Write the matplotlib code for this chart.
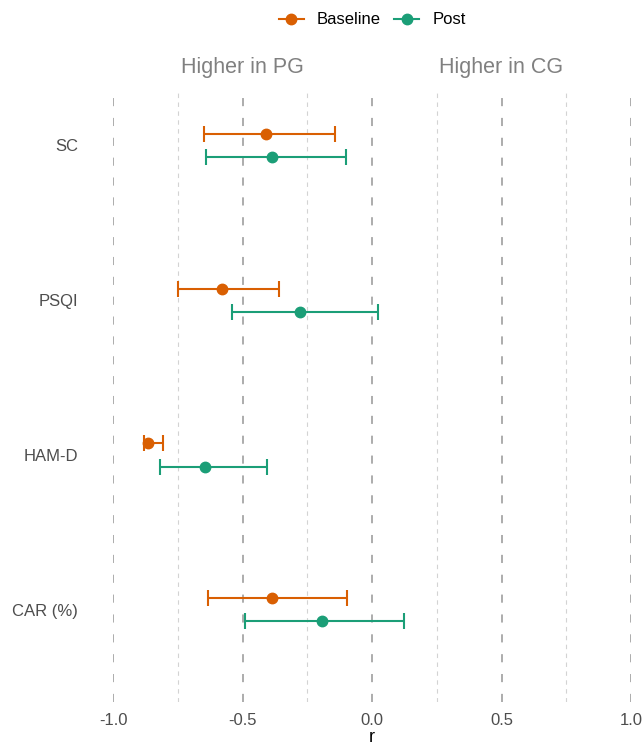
import matplotlib.pyplot as plt
from matplotlib.lines import Line2D

plt.rcParams['font.family'] = ['Liberation Sans', 'DejaVu Sans']

# effect sizes (r) with 95% CI, per outcome and time point
outcomes = ['SC', 'PSQI', 'HAM-D', 'CAR (%)']
base_r = [-0.409, -0.580, -0.864, -0.388]
base_lo = [-0.647, -0.749, -0.881, -0.635]
base_hi = [-0.143, -0.361, -0.807, -0.095]
post_r = [-0.387, -0.279, -0.645, -0.193]
post_lo = [-0.640, -0.540, -0.817, -0.492]
post_hi = [-0.099, 0.024, -0.404, 0.123]

major_x = [-1.0, -0.5, 0.0, 0.5, 1.0]
minor_x = [-0.75, -0.25, 0.25, 0.75]

c_base = '#D95F02'
c_post = '#1B9E77'

fig = plt.figure(figsize=(6.44, 7.45), dpi=100)
ax = fig.add_axes([113 / 644, 43 / 745, 518 / 644, 613 / 745])

for x in minor_x:
    ax.axvline(x, color='#D3D3D3', lw=0.8, ls=(0, (4, 4)), zorder=0)
for x in major_x:
    ax.axvline(x, color='#A6A6A6', lw=1.3, ls=(0, (4.5, 6.5)), zorder=0)

dodge = 0.075
ypos = list(range(len(outcomes)))
for r, lo, hi, col, off in [(base_r, base_lo, base_hi, c_base, -dodge),
                            (post_r, post_lo, post_hi, c_post, dodge)]:
    y = [i + off for i in ypos]
    err = [[v - l for v, l in zip(r, lo)], [h - v for v, h in zip(r, hi)]]
    ax.errorbar(r, y, xerr=err, fmt='o', color=col, ms=7.5, elinewidth=1.5,
                capsize=5.5, capthick=1.5, zorder=3)

ax.set_xlim(-1, 1)
ax.set_ylim(3 + 0.596, -0.364)
ax.set_yticks(ypos)
ax.set_yticklabels(outcomes)
ax.set_xticks(major_x)
ax.set_xticklabels([f'{v:.1f}' for v in major_x])
ax.tick_params(length=0, labelsize=12, labelcolor='#4D4D4D')
ax.tick_params(axis='y', pad=25)
ax.tick_params(axis='x', pad=8)
for s in ax.spines.values():
    s.set_visible(False)
ax.set_xlabel('r', fontsize=13, labelpad=1)

ax.text(-0.5, -0.5, 'Higher in PG', ha='center', va='center',
        fontsize=15.5, color='#808080')
ax.text(0.5, -0.5, 'Higher in CG', ha='center', va='center',
        fontsize=15.5, color='#808080')

handles = [Line2D([], [], color=c_base, marker='o', ms=7.5, lw=1.5),
           Line2D([], [], color=c_post, marker='o', ms=7.5, lw=1.5)]
fig.legend(handles, ['Baseline', 'Post'], loc='center',
           bbox_to_anchor=(0.578, 1 - 20 / 745), ncol=2, frameon=False,
           fontsize=12, handlelength=1.5, handletextpad=0.8,
           columnspacing=0.8)

fig.savefig('out.png', dpi=100)
